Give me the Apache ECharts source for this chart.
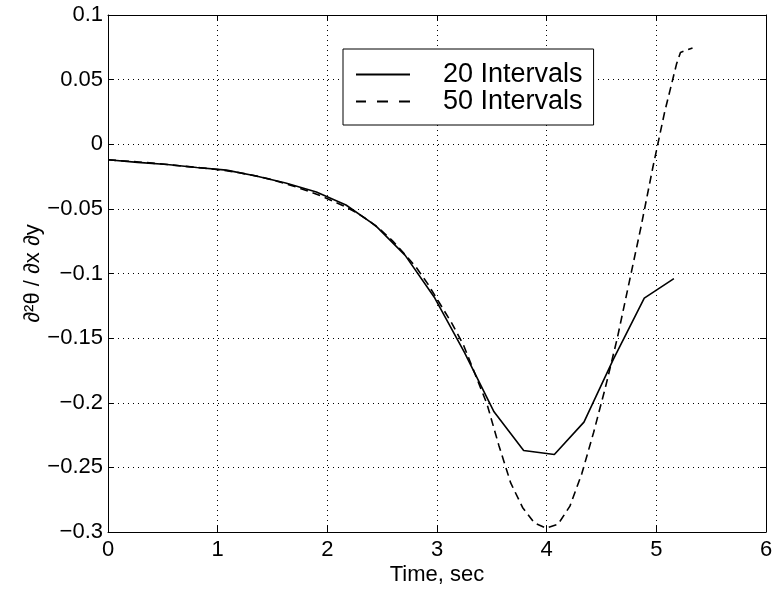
<!DOCTYPE html>
<html>
<head>
<meta charset="utf-8">
<script src="https://cdn.jsdelivr.net/npm/echarts@6/dist/echarts.min.js"></script>
<style>html,body{margin:0;padding:0;background:#fff}#c{width:776px;height:593px}</style>
</head>
<body>
<div id="c"></div>
<script>
// 20 intervals (solid)
const t20 = [0, 0.27, 0.54, 0.81, 1.08, 1.35, 1.62, 1.90, 2.17, 2.44, 2.71, 2.98, 3.25, 3.52, 3.79, 4.07, 4.34, 4.61, 4.89, 5.16];
const y20 = [-0.012, -0.014, -0.0157, -0.018, -0.020, -0.0245, -0.030, -0.037, -0.047, -0.063, -0.086, -0.119, -0.161, -0.207, -0.237, -0.240, -0.215, -0.166, -0.119, -0.104];
// 50 intervals (dashed)
const t50 = [0, 0.108, 0.216, 0.324, 0.432, 0.54, 0.648, 0.756, 0.864, 0.972, 1.08, 1.188, 1.296, 1.404, 1.512, 1.62, 1.728, 1.836, 1.944, 2.052, 2.16, 2.268, 2.376, 2.484, 2.592, 2.70, 2.808, 2.916, 3.024, 3.132, 3.24, 3.348, 3.456, 3.564, 3.672, 3.78, 3.888, 3.996, 4.104, 4.212, 4.32, 4.428, 4.536, 4.644, 4.752, 4.86, 4.968, 5.076, 5.184, 5.22, 5.33];
const y50 = [-0.012, -0.0127, -0.0133, -0.014, -0.0148, -0.0157, -0.0166, -0.0175, -0.0184, -0.0193, -0.0205, -0.0219, -0.0236, -0.0255, -0.0278, -0.0305, -0.0334, -0.0366, -0.040, -0.0440, -0.0482, -0.0530, -0.0590, -0.0660, -0.0745, -0.0845, -0.095, -0.108, -0.123, -0.138, -0.155, -0.178, -0.201, -0.233, -0.262, -0.281, -0.293, -0.297, -0.294, -0.280, -0.255, -0.223, -0.188, -0.150, -0.107, -0.064, -0.018, 0.025, 0.062, 0.071, 0.0745];
const seriesNames = ['20 Intervals', '50 Intervals'];
const xTicks = [0, 1, 2, 3, 4, 5, 6];
const yTicks = [-0.3, -0.25, -0.2, -0.15, -0.1, -0.05, 0, 0.05, 0.1];

const FONT = '"Liberation Sans", Arial, Helvetica, sans-serif';
const pair = (xs, ys) => xs.map((x, i) => [x, ys[i]]);
const fmtY = v => {
  const s = String(Math.round(v * 100) / 100);
  return s.replace('-', '\u2212');
};
const ICON_SOLID = 'path://M0,0h54v2h-54z';
const ICON_DASH = 'path://M0,0h10v2h-10zM21,0h11v2h-11zM43,0h11v2h-11z';

const chart = echarts.init(document.getElementById('c'), null, {renderer: 'canvas'});
const baseX = {
  type: 'value', min: xTicks[0], max: xTicks[xTicks.length - 1], interval: 1,
  axisLine: {show: true, onZero: false, lineStyle: {color: '#000', width: 1}},
  axisTick: {show: true, inside: true, length: 6, lineStyle: {color: '#000', width: 1}},
  splitLine: {show: false}
};
const baseY = {
  type: 'value', min: yTicks[0], max: yTicks[yTicks.length - 1], interval: 0.05,
  axisLine: {show: true, onZero: false, lineStyle: {color: '#000', width: 1}},
  axisTick: {show: true, inside: true, length: 6, lineStyle: {color: '#000', width: 1}},
  splitLine: {show: false}
};
chart.setOption({
  animation: false,
  backgroundColor: '#fff',
  textStyle: {fontFamily: FONT, color: '#000'},
  grid: {left: 108, right: 10, top: 15, bottom: 61, show: false},
  legend: {
    data: [
      {name: seriesNames[0], icon: ICON_SOLID},
      {name: seriesNames[1], icon: ICON_DASH}
    ],
    orient: 'vertical', left: 343, top: 49,
    backgroundColor: '#fff', borderColor: '#000', borderWidth: 1,
    padding: [12, 11, 10, 13],
    itemWidth: 54, itemHeight: 2, itemGap: 0,
    itemStyle: {color: '#000', borderWidth: 0},
    textStyle: {fontFamily: FONT, fontSize: 27, color: '#000', padding: [0, 0, 0, 28]},
    selectedMode: false
  },
  xAxis: [
    Object.assign({}, baseX, {
      position: 'bottom',
      name: 'Time, sec', nameLocation: 'middle', nameGap: 32, nameMoveOverlap: false,
      nameTextStyle: {fontFamily: FONT, fontSize: 22, color: '#000'},
      axisLabel: {fontFamily: FONT, fontSize: 22, color: '#000', margin: 7},
      splitLine: {show: true, lineStyle: {color: '#000', width: 1, type: [1, 4]}}
    }),
    Object.assign({}, baseX, {position: 'top', axisLabel: {show: false}})
  ],
  yAxis: [
    Object.assign({}, baseY, {
      position: 'left',
      name: '\u2202\u00B2\u03B8 / \u2202x \u2202y', nameLocation: 'middle', nameGap: 64, nameMoveOverlap: false,
      nameTextStyle: {fontFamily: FONT, fontSize: 22, color: '#000'},
      axisLabel: {fontFamily: FONT, fontSize: 22, color: '#000', margin: 5, formatter: fmtY},
      splitLine: {show: true, lineStyle: {color: '#000', width: 1, type: [1, 4]}}
    }),
    Object.assign({}, baseY, {position: 'right', axisLabel: {show: false}})
  ],
  series: [
    {
      name: seriesNames[0], type: 'line', data: pair(t20, y20),
      xAxisIndex: 0, yAxisIndex: 0,
      symbol: 'none', showSymbol: false, smooth: false,
      lineStyle: {color: '#000', width: 1.6, type: 'solid'},
      itemStyle: {color: '#000'}
    },
    {
      name: seriesNames[1], type: 'line', data: pair(t50, y50),
      xAxisIndex: 0, yAxisIndex: 0,
      symbol: 'none', showSymbol: false, smooth: false,
      lineStyle: {color: '#000', width: 1.6, type: [8, 5]},
      itemStyle: {color: '#000'}
    }
  ]
});
</script>
</body>
</html>
